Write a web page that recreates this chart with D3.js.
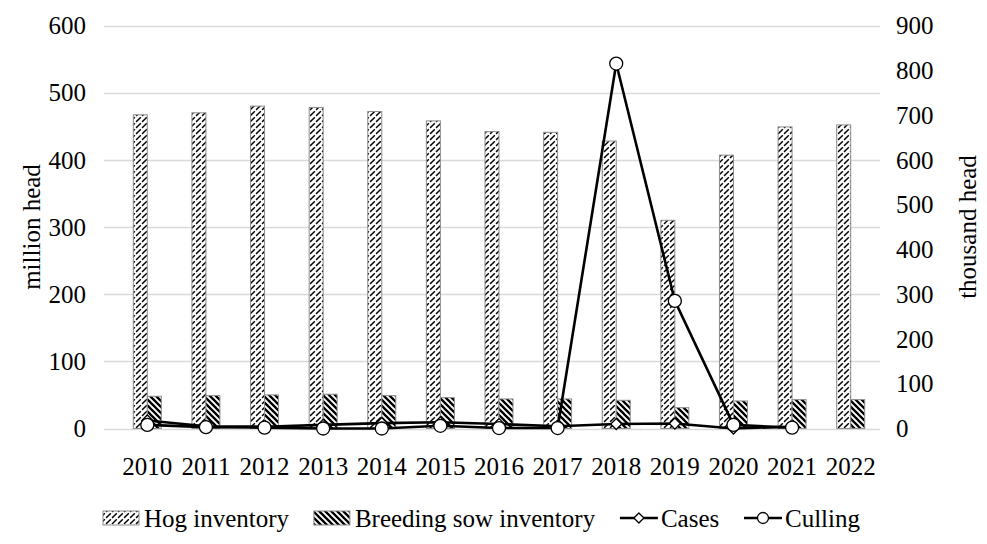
<!DOCTYPE html>
<html><head><meta charset="utf-8">
<script src="https://cdn.jsdelivr.net/npm/d3@7"></script>
<style>body{margin:0;background:#fff}svg{display:block;font-family:"Liberation Serif","Times New Roman",serif}</style>
</head><body><svg id="c" width="987" height="544"></svg>
<script>
const years = ["2010","2011","2012","2013","2014","2015","2016","2017","2018","2019","2020","2021","2022"];
const hogInventory = [467,470,480,478,472,458,442,441,428,310,407,449,452];
const sowInventory = [48,49,50,51,49,46,44,44,42,31,41,43,43];
const cases = [18,5,4,8,12,14,10,5,10,11,0,4,null];
const culling = [8,3,2,0,0,6,1,1,815,285,8,2,null];
const leftTicks = [0,100,200,300,400,500,600];
const rightTicks = [0,100,200,300,400,500,600,700,800,900];
const legendLabels = ["Hog inventory","Breeding sow inventory","Cases","Culling"];

const svg = d3.select("#c");
const L = 118, R = 880, T = 25.5, B = 428.5;
const x = d3.scaleBand().domain(years).range([L, R]);
const yL = d3.scaleLinear().domain([0,600]).range([B, T]);
const yR = d3.scaleLinear().domain([0,900]).range([B, T]);

const defs = svg.append("defs");
const p1 = defs.append("pattern").attr("id","hog").attr("patternUnits","userSpaceOnUse").attr("width",6).attr("height",6);
p1.append("rect").attr("width",6).attr("height",6).attr("fill","#fff");
p1.append("path").attr("d","M0,6 L6,0 M-1,1 L1,-1 M5,7 L7,5").attr("stroke","#000").attr("stroke-width",1.5).attr("stroke-dasharray","4,1.8");
const p2 = defs.append("pattern").attr("id","sow").attr("patternUnits","userSpaceOnUse").attr("width",6).attr("height",6);
p2.append("rect").attr("width",6).attr("height",6).attr("fill","#fff");
p2.append("path").attr("d","M-1,-1 L7,7 M-4,2 L2,8 M4,-2 L8,2").attr("stroke","#000").attr("stroke-width",2.3);

svg.append("g").selectAll("line").data(leftTicks).join("line")
  .attr("x1",L-14).attr("x2",R).attr("y1",d=>Math.round(yL(d))+0.5).attr("y2",d=>Math.round(yL(d))+0.5)
  .attr("stroke","#d9d9d9").attr("stroke-width",1.3);

const font = 25;
svg.append("g").selectAll("text").data(leftTicks).join("text")
  .attr("x",86).attr("y",d=>yL(d)).attr("dy","0.35em").attr("text-anchor","end")
  .attr("font-size",font).text(d=>d);
svg.append("g").selectAll("text").data(rightTicks).join("text")
  .attr("x",896).attr("y",d=>yR(d)).attr("dy","0.35em").attr("text-anchor","start")
  .attr("font-size",font).text(d=>d);
svg.append("g").selectAll("text").data(years).join("text")
  .attr("x",d=>x(d)+x.bandwidth()/2).attr("y",475).attr("text-anchor","middle")
  .attr("font-size",font).text(d=>d);
svg.append("text").attr("transform",`translate(40,${(T+B)/2}) rotate(-90)`).attr("text-anchor","middle")
  .attr("font-size",font).text("million head");
svg.append("text").attr("transform",`translate(976,${(T+B)/2}) rotate(-90)`).attr("text-anchor","middle")
  .attr("font-size",font).text("thousand head");

const bw = 14;
const bars = svg.append("g");
bars.selectAll("rect.h").data(years).join("rect").attr("class","h")
  .attr("x",(d)=>x(d)+x.bandwidth()/2-bw).attr("width",bw)
  .attr("y",(d,i)=>yL(hogInventory[i])).attr("height",(d,i)=>B-yL(hogInventory[i]))
  .attr("fill","url(#hog)").attr("stroke","#8c8c8c").attr("stroke-width",1);
bars.selectAll("rect.s").data(years).join("rect").attr("class","s")
  .attr("x",(d)=>x(d)+x.bandwidth()/2).attr("width",bw)
  .attr("y",(d,i)=>yL(sowInventory[i])).attr("height",(d,i)=>B-yL(sowInventory[i]))
  .attr("fill","url(#sow)").attr("stroke","#8c8c8c").attr("stroke-width",1);

const cx = d=>x(d)+x.bandwidth()/2;
const line = arr => d3.line().defined(d=>arr[years.indexOf(d)]!=null).x(cx).y(d=>yR(arr[years.indexOf(d)]));

svg.append("path").datum(years).attr("d",line(cases)).attr("fill","none").attr("stroke","#000").attr("stroke-width",2.6);
svg.append("g").selectAll("path").data(years.filter((d,i)=>cases[i]!=null)).join("path")
  .attr("d",d3.symbol().type(d3.symbolSquare).size(60)).attr("transform",d=>`translate(${cx(d)},${yR(cases[years.indexOf(d)])}) rotate(45)`)
  .attr("fill","#fff").attr("stroke","#000").attr("stroke-width",1.3);
svg.append("path").datum(years).attr("d",line(culling)).attr("fill","none").attr("stroke","#000").attr("stroke-width",2.6);
svg.append("g").selectAll("circle").data(years.filter((d,i)=>culling[i]!=null)).join("circle")
  .attr("cx",cx).attr("cy",d=>yR(culling[years.indexOf(d)])).attr("r",6.5)
  .attr("fill","#fff").attr("stroke","#000").attr("stroke-width",1.3);

const ly = 518, symW = 38, symGap = 3;
const lg = svg.append("g");
const texts = legendLabels.map(t => lg.append("text").attr("y",ly).attr("dy","0.35em").attr("font-size",font).text(t));
const widths = texts.map(t => t.node().getComputedTextLength());
const total = widths.reduce((a,b)=>a+b,0) + 4*(symW+symGap);
const gap = (860-103-total)/3;
let cur = 103;
legendLabels.forEach((lab,i)=>{
  const sx = cur;
  if (i<2) {
    lg.append("rect").attr("x",sx).attr("y",ly-7).attr("width",symW-2).attr("height",14)
      .attr("fill",i===0?"url(#hog)":"url(#sow)").attr("stroke","#8c8c8c");
  } else {
    lg.append("line").attr("x1",sx).attr("x2",sx+symW).attr("y1",ly).attr("y2",ly).attr("stroke","#000").attr("stroke-width",2.5);
    if (i===2) lg.append("path").attr("d",d3.symbol().type(d3.symbolSquare).size(50)).attr("transform",`translate(${sx+symW/2},${ly}) rotate(45)`).attr("fill","#fff").attr("stroke","#000").attr("stroke-width",1.3);
    else lg.append("circle").attr("cx",sx+symW/2).attr("cy",ly).attr("r",5.5).attr("fill","#fff").attr("stroke","#000").attr("stroke-width",1.3);
  }
  texts[i].attr("x", sx+symW+symGap);
  cur = sx + symW + symGap + widths[i] + gap;
});
</script></body></html>
